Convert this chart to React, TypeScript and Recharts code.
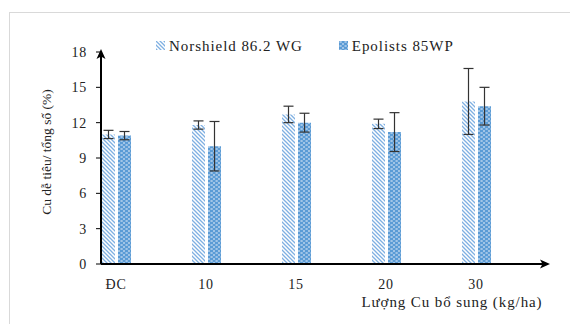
import React from 'react';
import { BarChart, Bar, XAxis, YAxis, ErrorBar } from 'recharts';

const categories = ['ĐC', '10', '15', '20', '30'];
const norshield = [11.0, 11.8, 12.7, 11.9, 13.8];
const norshieldErr = [0.35, 0.35, 0.7, 0.4, 2.8];
const epolists = [10.9, 10.0, 12.0, 11.2, 13.4];
const epolistsErr = [0.35, 2.1, 0.8, 1.65, 1.6];
const yTicks = [0, 3, 6, 9, 12, 15, 18];

const seriesNames = ['Norshield 86.2 WG', 'Epolists 85WP'];

const data = categories.map((c, i) => ({
  label: c,
  n: norshield[i],
  nErr: norshieldErr[i],
  e: epolists[i],
  eErr: epolistsErr[i],
}));

const FONT = '"Liberation Serif", "DejaVu Serif", serif';

function PatternN({ id }: { id: string }) {
  return (
    <pattern id={id} patternUnits="userSpaceOnUse" width="4" height="4">
      <rect width="4" height="4" fill="#ffffff" />
      <path d="M-1,3 l2,2 M0,0 l4,4 M3,-1 l2,2" stroke="#7fb0e2" strokeWidth="1.3" />
    </pattern>
  );
}

function PatternE({ id }: { id: string }) {
  return (
    <pattern id={id} patternUnits="userSpaceOnUse" width="5" height="4">
      <rect width="5" height="4" fill="#5b9bd5" />
      <rect x="0.5" y="0.5" width="2.2" height="1" fill="#e6f0fa" />
      <rect x="3" y="2.5" width="2.2" height="1" fill="#e6f0fa" />
    </pattern>
  );
}

function Swatch({ kind }: { kind: 'n' | 'e' }) {
  const id = kind === 'n' ? 'swN' : 'swE';
  return (
    <svg width={9} height={9} style={{ display: 'inline-block', marginRight: 4, verticalAlign: 'middle', position: 'relative', top: -2 }}>
      <defs>{kind === 'n' ? <PatternN id={id} /> : <PatternE id={id} />}</defs>
      <rect width={9} height={9} fill={`url(#${id})`} />
    </svg>
  );
}

export default function App() {
  return (
    <div style={{ position: 'absolute', left: 0, top: 0, width: 570, height: 324, background: '#fff', overflow: 'hidden' }}>
      <div
        style={{
          position: 'absolute',
          left: 9,
          top: 12,
          width: 600,
          height: 400,
          borderLeft: '1.5px solid #d9d9d9',
          borderTop: '1.5px solid #d9d9d9',
        }}
      />
      <BarChart
        width={570}
        height={324}
        data={data}
        margin={{ top: 52, right: 22, bottom: 30, left: 41 }}
        barSize={13}
        barGap={3}
        style={{ position: 'absolute', left: 0, top: 0 }}
      >
        <defs>
          <PatternN id="hatchN" />
          <PatternE id="dotE" />
        </defs>
        <XAxis
          dataKey="label"
          height={30}
          padding={{ left: -30, right: 27 }}
          axisLine={{ stroke: '#000', strokeWidth: 2 }}
          tickLine={false}
          tickMargin={9}
          tick={{ fontSize: 14, fill: '#222', fontFamily: FONT, letterSpacing: 0.8 }}
          label={{
            content: () => (
              <text x={452} y={307} textAnchor="middle" fontSize={15} fill="#222" fontFamily={FONT} letterSpacing={0.9}>
                Lượng Cu bổ sung (kg/ha)
              </text>
            ),
          }}
        />
        <YAxis
          width={60}
          domain={[0, 18]}
          ticks={yTicks}
          axisLine={{ stroke: '#000', strokeWidth: 2 }}
          tickLine={{ stroke: '#000' }}
          tickSize={5}
          tickMargin={9}
          tick={{ fontSize: 14, fill: '#222', fontFamily: FONT, letterSpacing: 0.8 }}
          label={{
            content: () => (
              <text
                x={46}
                y={152}
                textAnchor="middle"
                fontSize={13.5}
                fill="#222"
                fontFamily={FONT}
                transform="rotate(-90 46 152)"
                dy={5}
              >
                Cu dễ tiêu/ tổng số (%)
              </text>
            ),
          }}
        />
        <Bar dataKey="n" name={seriesNames[0]} fill="url(#hatchN)" isAnimationActive={false}>
          <ErrorBar dataKey="nErr" width={5} stroke="#333" strokeWidth={1.2} direction="y" />
        </Bar>
        <Bar dataKey="e" name={seriesNames[1]} fill="url(#dotE)" isAnimationActive={false}>
          <ErrorBar dataKey="eErr" width={5} stroke="#333" strokeWidth={1.2} direction="y" />
        </Bar>
      </BarChart>
      <div
        style={{
          position: 'absolute',
          left: 156,
          top: 38,
          display: 'flex',
          fontFamily: FONT,
          fontSize: 15,
          letterSpacing: 0.95,
          color: '#222',
          whiteSpace: 'nowrap',
        }}
      >
        <span style={{ marginRight: 36 }}>
          <Swatch kind="n" />
          {seriesNames[0]}
        </span>
        <span>
          <Swatch kind="e" />
          {seriesNames[1]}
        </span>
      </div>
      <svg width={570} height={324} style={{ position: 'absolute', left: 0, top: 0, pointerEvents: 'none' }}>
        <polygon points="101,49 96.5,59 101,56.5 105.5,59" fill="#000" />
        <polygon points="550,264 540,259.5 542.5,264 540,268.5" fill="#000" />
      </svg>
    </div>
  );
}
